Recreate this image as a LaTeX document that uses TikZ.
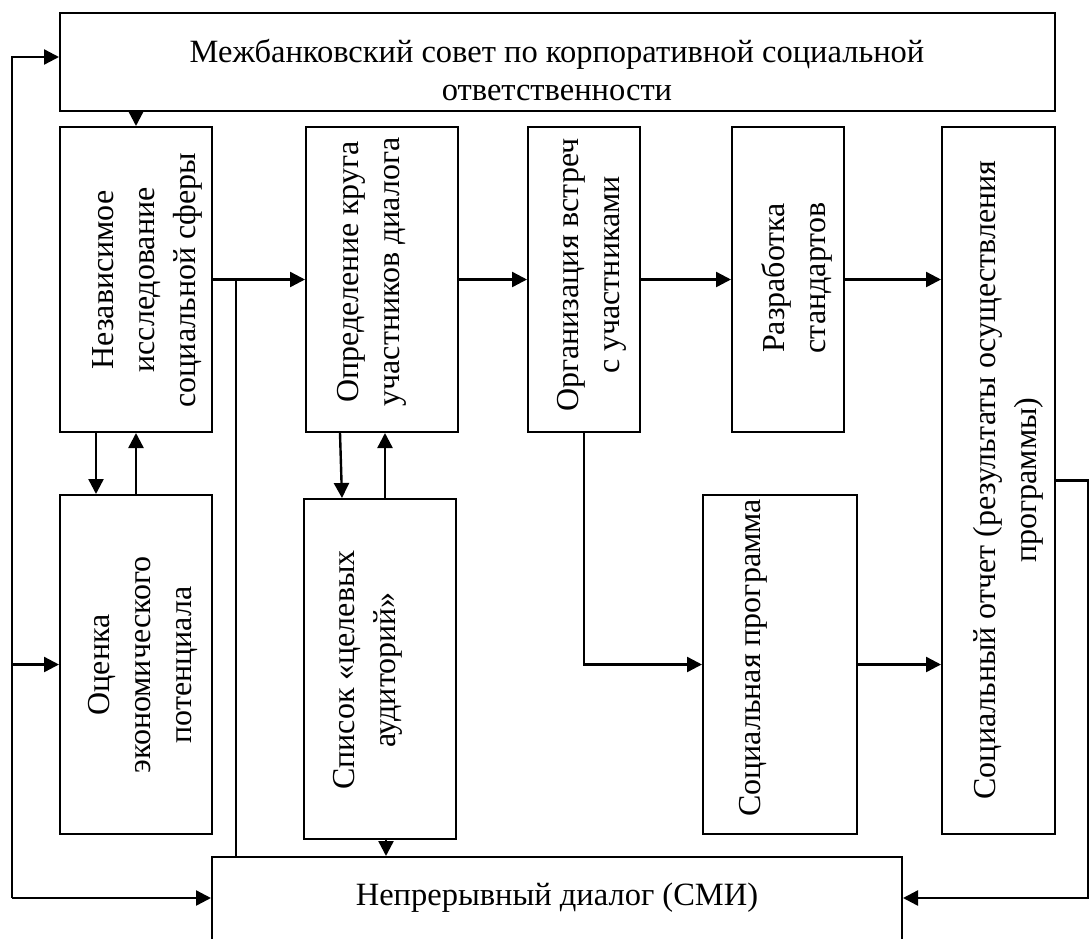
\documentclass[tikz,border=0pt]{standalone}
\usepackage{fontspec}
\setmainfont{Liberation Serif}
\usetikzlibrary{arrows.meta,calc}
\tikzset{
  box/.style={draw, line width=2pt, inner sep=0pt},
  rtext/.style={rotate=90, align=center, inner sep=0pt, font=\fontsize{32}{41}\selectfont},
  htext/.style={align=center, inner sep=0pt, font=\fontsize{32.5}{38.5}\selectfont},
  arr/.style={line width=2.4pt, -{Triangle[length=15pt,width=15pt]}},
  ln/.style={line width=2.4pt}
}
\begin{document}
\begin{tikzpicture}[x=1pt,y=-1pt]
\useasboundingbox (0,0) rectangle (1090,938);
\clip (0,0) rectangle (1090,938);
% boxes
\node[box, minimum width=995pt, minimum height=98pt] (council) at (557.5,62) {};
\node[box, minimum width=152pt, minimum height=305pt] (research) at (136,279.5) {};
\node[box, minimum width=152pt, minimum height=339pt] (assess) at (136,664.5) {};
\node[box, minimum width=152pt, minimum height=305pt] (circle) at (382,279.5) {};
\node[box, minimum width=152pt, minimum height=340pt] (list) at (380,669) {};
\node[box, minimum width=112pt, minimum height=305pt] (meet) at (584,279.5) {};
\node[box, minimum width=112pt, minimum height=305pt] (std) at (788,279.5) {};
\node[box, minimum width=154pt, minimum height=339pt] (prog) at (780,664.5) {};
\node[box, minimum width=113pt, minimum height=707pt] (report) at (998.5,480.5) {};
\node[box, minimum width=690pt, minimum height=123pt] (dialog) at (557,918.5) {};
% texts
\node[htext] (tcouncil) at (557,70) {Межбанковский совет по корпоративной социальной\\ответственности};
\node[rtext] (tresearch) at (147,280) {Независимое\\исследование\\социальной сферы};
\node[rtext] (tassess) at (143,665) {Оценка\\экономического\\потенциала};
\node[rtext] (tcircle) at (372,272) {Определение круга\\участников диалога};
\node[rtext] (tlist) at (368,670) {Список «целевых\\аудиторий»};
\node[rtext] (tmeet) at (592,275) {Организация встреч\\с участниками};
\node[rtext] (tstd) at (797,278) {Разработка\\стандартов};
\node[rtext] (tprog) at (753,658) {Социальная программа};
\node[rtext] (treport) at (1008,480) {Социальный отчет (результаты осуществления\\программы)};
\node[htext] (tdialog) at (557,898) {Непрерывный диалог (СМИ)};
% connectors
\draw[arr] (research.north |- council.south) -- (research.north);
\draw[arr] (research.east) -- (circle.west);
\coordinate (j1) at (236,279.5);
\draw[ln] (j1) -- (j1 |- dialog.north);
\draw[arr] (circle.east) -- (meet.west);
\draw[arr] (meet.east) -- (std.west);
\draw[arr] (std.east) -- (std.east -| report.west);
\draw[arr] ([xshift=-40pt]research.south) -- ([xshift=-40pt]research.south |- assess.north);
\draw[arr] (assess.north) -- (assess.north |- research.south);
\draw[arr] ([xshift=-42pt]circle.south) -- ([xshift=-38pt]list.north);
\draw[arr] ([xshift=5pt]list.north) -- ([xshift=5pt]list.north |- circle.south);
\draw[arr] ([xshift=6pt]list.south) -- ([xshift=6pt]list.south |- dialog.north);
\draw[arr] (meet.south) |- (prog.west);
\draw[arr] (prog.east) -- (prog.east -| report.west);
\coordinate (rb) at (1088,898);
\draw[arr] (report.east) -| (rb) -- (rb -| dialog.east);
\coordinate (lb) at (12,898);
\draw[arr] (lb) |- ([yshift=5pt]council.west);
\draw[arr] (lb |- assess.west) -- (assess.west);
\draw[arr] (lb) -- (lb -| dialog.west);
\end{tikzpicture}
\end{document}
